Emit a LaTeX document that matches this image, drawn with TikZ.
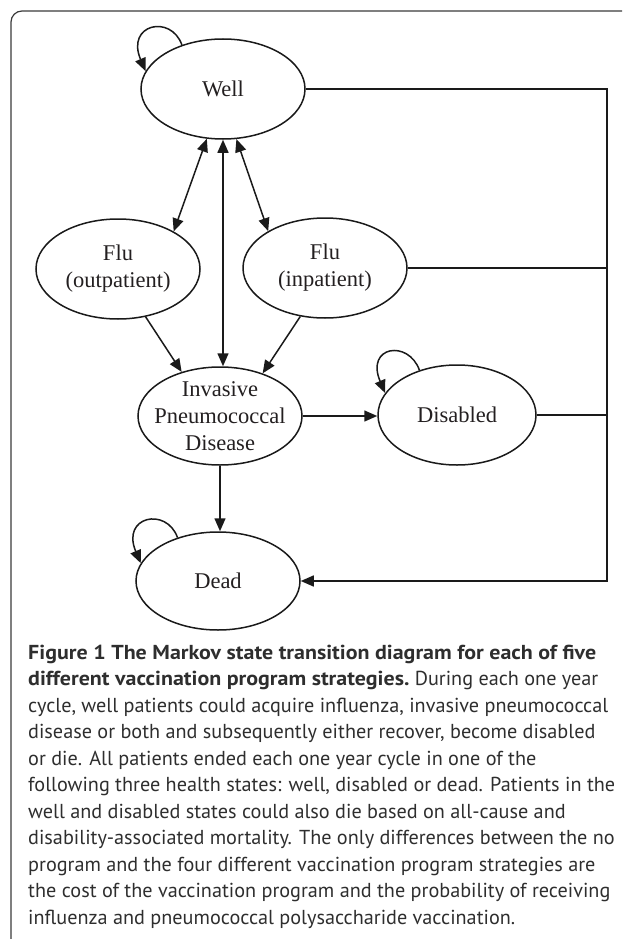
\documentclass[tikz,border=0pt]{standalone}
\usepackage{fontspec}
\usepackage{graphicx}
\setmainfont{Liberation Serif}
\newfontfamily\capfont{PT Sans}
\usetikzlibrary{shapes.geometric,arrows.meta}
\definecolor{linec}{HTML}{1A1A1A}
\definecolor{textc}{HTML}{231F20}
\definecolor{capc}{HTML}{2E2E2E}
\definecolor{framec}{HTML}{3A3A3A}
\newlength\mycapw
\newlength\myboldw
\begin{document}
\settowidth{\mycapw}{\capfont\fontsize{10pt}{12pt}\selectfont cycle, well patients could acquire influenza, invasive pneumococcal}%
\pgfmathsetmacro\capsz{10*580/\mycapw}%
\settowidth{\myboldw}{\capfont\bfseries\fontsize{\capsz pt}{26.5pt}\selectfont Figure 1 The Markov state transition diagram for each of five}%
\pgfmathsetmacro\bx{568/\myboldw}%
\begin{tikzpicture}[x=1pt,y=-1pt,
  state/.style={ellipse, draw=linec, line width=1.5pt, minimum width=164pt, minimum height=100pt, inner sep=0pt},
  statetext/.style={font=\fontsize{22.5pt}{27pt}\selectfont, align=center, text=textc},
  conn/.style={line width=1.5pt, draw=linec},
  arr/.style={conn, -{Triangle[length=13pt,width=11pt]}},
  darr/.style={conn, {Triangle[length=13pt,width=11pt]}-{Triangle[length=13pt,width=11pt]}},
  captext/.style={font=\capfont\fontsize{\capsz pt}{26.5pt}\selectfont, anchor=base west, inner sep=0pt, text=capc}]
\useasboundingbox (0,0) rectangle (622,939);
\clip (0,0) rectangle (622,939);
% frame
\draw[framec, line width=1.2pt, rounded corners=11pt] (11,11) rectangle (680,990);
% states
\node[state, label={[statetext]center:Well}] (well) at (223,89) {};
\node[state, label={[statetext]center:Flu\\(outpatient)}] (flo) at (118,269) {};
\node[state, label={[statetext]center:Flu\\(inpatient)}] (fli) at (325,268) {};
\node[state, minimum height=98pt, label={[statetext]center:Invasive\\Pneumococcal\\Disease}] (ipd) at (220,416) {};
\node[state, minimum width=158pt, label={[statetext]center:Disabled}] (dis) at (457,415) {};
\node[state, minimum height=98pt, label={[statetext]center:Dead}] (dead) at (218,581) {};
\coordinate (bus) at (607,581);
% connectors
\draw[darr] (flo.34) -- (well.252);
\draw[darr] (fli.147) -- (well.285);
\draw[darr] (well.south) -- (well.south |- ipd.north);
\draw[arr] (flo.300) -- (ipd.131);
\draw[arr] (fli.243) -- (ipd.45);
\draw[arr] (ipd.east) -- (ipd.east -| dis.west);
\draw[arr] (ipd.south) -- (ipd.south |- dead.north);
\draw[arr] (well.east) -| (bus) -- (dead.east);
\draw[conn] (fli.east) -- (fli.east -| bus);
\draw[conn] (dis.east) -- (dis.east -| bus);
% self loops
\draw[arr] (well.133) .. controls +(-11,-31) and +(-20,-47) .. (well.167);
\draw[arr] (dis.130) .. controls +(-11,-31) and +(-20,-47) .. (dis.163);
\draw[arr] (dead.133) .. controls +(-11,-31) and +(-20,-47) .. (dead.167);
% caption
\node[captext] (cap1) at (28,659) {\scalebox{\bx}[1]{\bfseries Figure 1 The Markov state transition diagram for each of five}};
\node[captext] (cap2) at (28,685.5) {\scalebox{\bx}[1]{\bfseries different vaccination program strategies.} During each one year};
\node[captext] (cap3) at (28,712) {cycle, well patients could acquire influenza, invasive pneumococcal};
\node[captext] (cap4) at (28,738.5) {disease or both and subsequently either recover, become disabled};
\node[captext] (cap5) at (28,765) {or die. All patients ended each one year cycle in one of the};
\node[captext] (cap6) at (28,791.5) {following three health states: well, disabled or dead. Patients in the};
\node[captext] (cap7) at (28,818) {well and disabled states could also die based on all-cause and};
\node[captext] (cap8) at (28,844.5) {disability-associated mortality. The only differences between the no};
\node[captext] (cap9) at (28,871) {program and the four different vaccination program strategies are};
\node[captext] (cap10) at (28,897.5) {the cost of the vaccination program and the probability of receiving};
\node[captext] (cap11) at (28,924) {influenza and pneumococcal polysaccharide vaccination.};
\end{tikzpicture}
\end{document}
